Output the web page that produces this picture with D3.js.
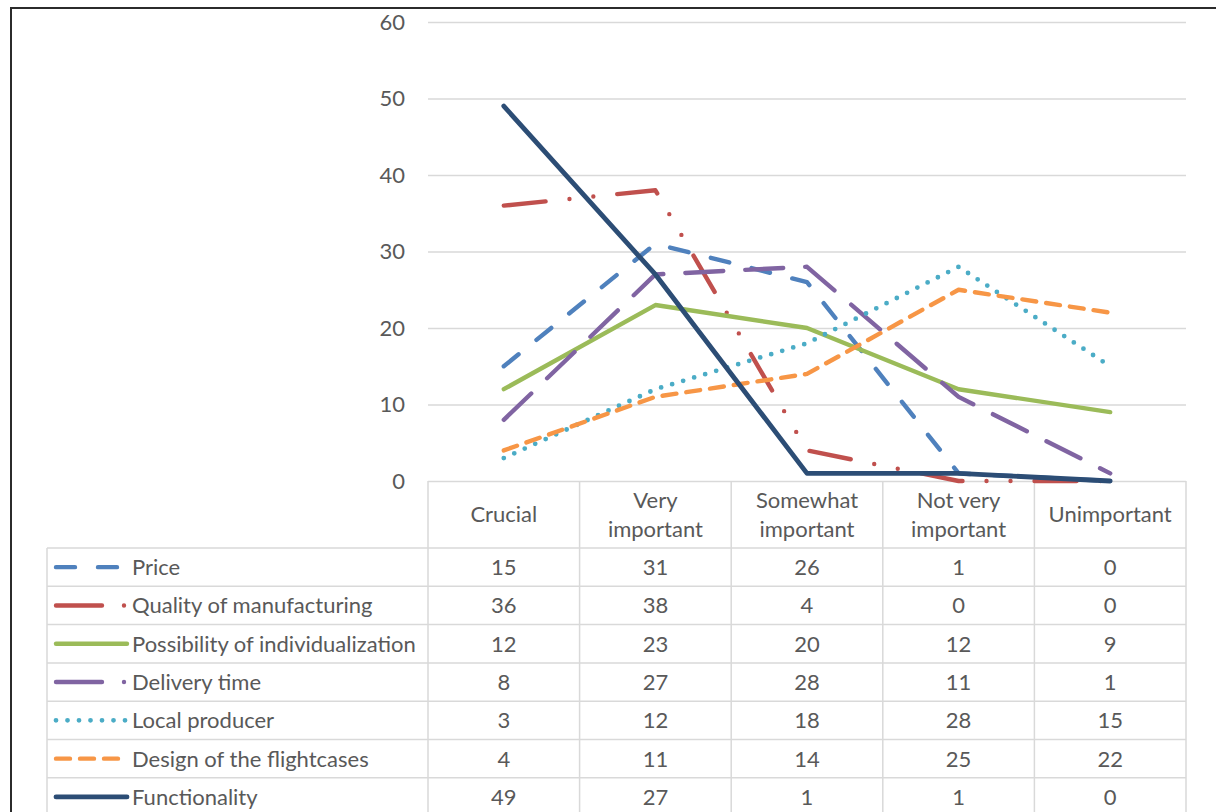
<!DOCTYPE html>
<html>
<head>
<meta charset="utf-8">
<script src="https://cdn.jsdelivr.net/npm/d3@7"></script>
<style>
  html, body { margin: 0; padding: 0; background: #fff; }
  svg { display: block; }
  text { font-family: Lato, "Open Sans", sans-serif; fill: #595959; }
</style>
</head>
<body>
<svg id="chart" width="1216" height="812"></svg>
<script>
const categories = ["Crucial", "Very important", "Somewhat important", "Not very important", "Unimportant"];
const seriesNames = ["Price", "Quality of manufacturing", "Possibility of individualization", "Delivery time", "Local producer", "Design of the flightcases", "Functionality"];
const price = [15, 31, 26, 1, 0];
const quality = [36, 38, 4, 0, 0];
const individualization = [12, 23, 20, 12, 9];
const deliveryTime = [8, 27, 28, 11, 1];
const localProducer = [3, 12, 18, 28, 15];
const designFlightcases = [4, 11, 14, 25, 22];
const functionality = [49, 27, 1, 1, 0];
const yTicks = [0, 10, 20, 30, 40, 50, 60];

const seriesValues = [price, quality, individualization, deliveryTime, localProducer, designFlightcases, functionality];
const colors = ["#4F81BD", "#C0504D", "#9BBB59", "#8064A2", "#4BACC6", "#F79646", "#2C4D75"];
const dashes = ["19,23", "42,24,0,24,0,24", null, "38,22", "0,11.5", "14,10", null];
const legendDashes = ["19,23", "46,22,0,60", null, "46,22,0,60", "0,11.5", "14,10", null];
const widths = [4.4, 4.4, 4.4, 4.4, 4.8, 4.4, 4.8];

const series = seriesNames.map((name, i) => ({ name, values: seriesValues[i], color: colors[i], dash: dashes[i], legendDash: legendDashes[i], width: widths[i] }));

const svg = d3.select("#chart");
const plotLeft = 428, plotRight = 1186, plotTop = 22, plotBottom = 481;
const tableLeft = 47, headerBottom = 548, rowH = 38.3;
const fs = 22;

const x = d3.scaleBand().domain(categories).range([plotLeft, plotRight]).padding(0);
const y = d3.scaleLinear().domain([0, 60]).range([plotBottom, plotTop]);
const row = d3.scaleBand().domain(seriesNames).range([headerBottom, headerBottom + rowH * seriesNames.length]).padding(0);

// outer frame
svg.append("path")
  .attr("d", `M11,812 L11,8 L1216,8`)
  .attr("fill", "none").attr("stroke", "#2b2b2b").attr("stroke-width", 2);

// gridlines + y axis labels
const yAxis = d3.axisLeft(y).tickValues(yTicks).tickSize(-(plotRight - plotLeft)).tickPadding(23);
const gy = svg.append("g").attr("transform", `translate(${plotLeft},0)`).call(yAxis);
gy.select(".domain").remove();
gy.selectAll(".tick line").attr("stroke", "#D9D9D9").attr("stroke-width", 1.5);
gy.selectAll(".tick text").attr("font-size", fs).attr("font-family", "Lato, 'Open Sans', sans-serif").attr("fill", "#595959");

// table grid
const grid = svg.append("g").attr("stroke", "#D9D9D9").attr("stroke-width", 1.5).attr("fill", "none");
const colEdges = categories.map(c => x(c)).concat([plotRight]);
colEdges.forEach(cx => {
  grid.append("line").attr("x1", cx).attr("x2", cx).attr("y1", plotBottom).attr("y2", 812);
});
grid.append("line").attr("x1", tableLeft).attr("x2", tableLeft).attr("y1", headerBottom).attr("y2", 812);
seriesNames.forEach(n => {
  grid.append("line").attr("x1", tableLeft).attr("x2", plotRight).attr("y1", row(n)).attr("y2", row(n));
});

// header labels
const headerMid = (plotBottom + headerBottom) / 2;
categories.forEach(c => {
  const idx = c.indexOf(" important");
  const lines = idx > 0 ? [c.slice(0, idx), "important"] : [c];
  const t = svg.append("text").attr("text-anchor", "middle").attr("font-size", fs);
  lines.forEach((ln, k) => {
    const off = (k - (lines.length - 1) / 2) * 29;
    t.append("tspan").attr("x", x(c) + x.bandwidth() / 2).attr("y", headerMid + off + fs * 0.36).text(ln);
  });
});

// table body
series.forEach(s => {
  const cy = row(s.name) + row.bandwidth() / 2;
  svg.append("line")
    .attr("x1", 56).attr("x2", 127).attr("y1", cy).attr("y2", cy)
    .attr("stroke", s.color).attr("stroke-width", s.width)
    .attr("stroke-linecap", "round")
    .attr("stroke-dasharray", s.legendDash);
  svg.append("text").attr("x", 132).attr("y", cy + fs * 0.36).attr("font-size", fs).text(s.name);
  s.values.forEach((v, i) => {
    svg.append("text").attr("text-anchor", "middle")
      .attr("x", x(categories[i]) + x.bandwidth() / 2)
      .attr("y", cy + fs * 0.36).attr("font-size", fs).text(v);
  });
});

// lines
const line = d3.line()
  .x((d, i) => x(categories[i]) + x.bandwidth() / 2)
  .y(d => y(d));
series.forEach(s => {
  svg.append("path")
    .attr("d", line(s.values))
    .attr("fill", "none")
    .attr("stroke", s.color)
    .attr("stroke-width", s.width)
    .attr("stroke-linecap", "round")
    .attr("stroke-linejoin", "round")
    .attr("stroke-dasharray", s.dash);
});
</script>
</body>
</html>
